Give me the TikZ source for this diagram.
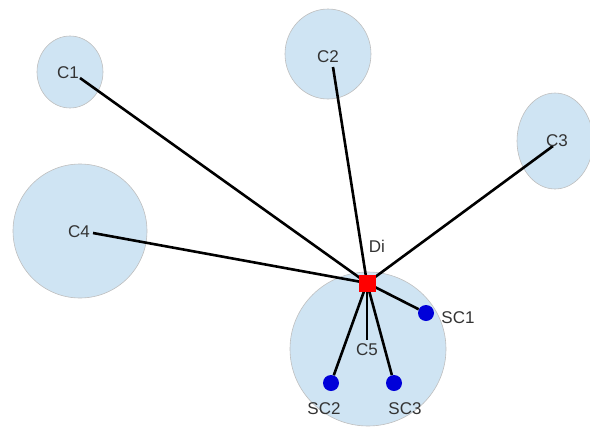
\documentclass[tikz,border=0pt]{standalone}
\usepackage{fontspec}
\setmainfont{Liberation Sans}
\begin{document}
\begin{tikzpicture}[x=1pt,y=-1pt,
  lbl/.style={font=\fontsize{17}{17}\selectfont, text=black!80, inner sep=0pt},
  link/.style={line width=2.6pt, black},
  sub/.style={circle, fill=blue!85!black, minimum size=16pt, inner sep=0pt},
  hub/.style={rectangle, fill=red, minimum size=17pt, inner sep=0pt}]
\useasboundingbox (0,0) rectangle (590,429);
\definecolor{cfill}{RGB}{207,228,243}
\begin{scope}
\clip (0,0) rectangle (590,429);
\fill[cfill, draw=gray!50, line width=0.6pt] (70,72) ellipse (33 and 36);
\fill[cfill, draw=gray!50, line width=0.6pt] (328,54) ellipse (43 and 45);
\fill[cfill, draw=gray!50, line width=0.6pt] (555,141) ellipse (38 and 48);
\fill[cfill, draw=gray!50, line width=0.6pt] (80,231) circle (67);
\fill[cfill, draw=gray!50, line width=0.6pt] (368,349) ellipse (78 and 77);
\end{scope}
\coordinate (e1) at (80,78);
\coordinate (e2) at (333,67);
\coordinate (e3) at (553,146);
\coordinate (e4) at (93,233);
\coordinate (e5) at (367,340);
\node[hub] (di) at (367,283) {};
\node[sub] (sc1) at (426,313) {};
\node[sub] (sc2) at (331,383) {};
\node[sub] (sc3) at (394,383) {};
\foreach \e in {e1,e2,e3,e4,e5,sc1,sc2,sc3} \draw[link] (di.center) -- (\e);
\node[hub] at (367,283) {};
\node[lbl] (l1) at (68,73) {C1};
\node[lbl] (l2) at (328,57) {C2};
\node[lbl] (l3) at (557,141) {C3};
\node[lbl] (l4) at (79,232) {C4};
\node[lbl] (l5) at (367,350) {C5};
\node[lbl] (ldi) at (377,246) {Di};
\node[lbl] (ls1) at (458,318) {SC1};
\node[lbl] (ls2) at (324,409) {SC2};
\node[lbl] (ls3) at (405,409) {SC3};
\end{tikzpicture}
\end{document}
